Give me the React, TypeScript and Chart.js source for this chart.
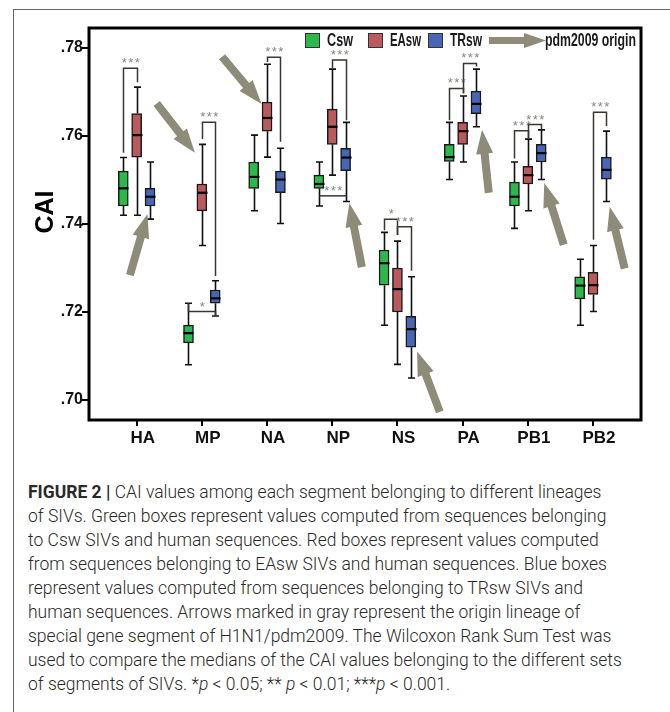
import React, { useEffect, useRef } from 'react';
import { Chart, registerables } from 'chart.js';

Chart.register(...registerables);

// ---------------- data ----------------
const categories = ['HA', 'MP', 'NA', 'NP', 'NS', 'PA', 'PB1', 'PB2'];
const seriesNames = ['Csw', 'EAsw', 'TRsw'];
const seriesColors = ['#2db84b', '#b95a5c', '#4866b6'];
const yTicks = [0.70, 0.72, 0.74, 0.76, 0.78];

// Csw
const cswMin = [0.7420, 0.7080, 0.7430, 0.7441, 0.7170, 0.7501, 0.7390, 0.7170];
const cswQ1 = [0.7441, 0.7130, 0.7481, 0.7481, 0.7261, 0.7542, 0.7441, 0.7230];
const cswMed = [0.7481, 0.7152, 0.7507, 0.7491, 0.7311, 0.7552, 0.7462, 0.7260];
const cswQ3 = [0.7520, 0.7170, 0.7541, 0.7511, 0.7341, 0.7581, 0.7495, 0.7280];
const cswMax = [0.7551, 0.7220, 0.7602, 0.7541, 0.7381, 0.7631, 0.7541, 0.7320];
// EAsw
const easwMin = [0.7420, 0.7351, 0.7552, 0.7511, 0.7081, 0.7541, 0.7430, 0.7201];
const easwQ1 = [0.7552, 0.7430, 0.7611, 0.7581, 0.7200, 0.7581, 0.7491, 0.7240];
const easwMed = [0.7602, 0.7471, 0.7641, 0.7621, 0.7252, 0.7611, 0.7511, 0.7261];
const easwQ3 = [0.7651, 0.7491, 0.7677, 0.7661, 0.7300, 0.7631, 0.7531, 0.7290];
const easwMax = [0.7711, 0.7581, 0.7763, 0.7752, 0.7361, 0.7691, 0.7593, 0.7351];
// TRsw
const trswMin = [0.7411, 0.7191, 0.7401, 0.7451, 0.7050, 0.7621, 0.7501, 0.7451];
const trswQ1 = [0.7441, 0.7220, 0.7471, 0.7521, 0.7120, 0.7651, 0.7541, 0.7502];
const trswMed = [0.7462, 0.7231, 0.7501, 0.7551, 0.7161, 0.7673, 0.7561, 0.7523];
const trswQ3 = [0.7481, 0.7250, 0.7520, 0.7572, 0.7190, 0.7702, 0.7581, 0.7552];
const trswMax = [0.7541, 0.7271, 0.7572, 0.7631, 0.7280, 0.7752, 0.7614, 0.7611];

// significance brackets (category index, series from/to, bracket level, leg ends, label)
const bracketCat = [0, 1, 1, 2, 3, 3, 4, 4, 5, 5, 6, 6, 7];
const bracketFrom = [0, 1, 0, 1, 1, 0, 0, 1, 0, 1, 0, 1, 1];
const bracketTo = [1, 2, 2, 2, 2, 2, 1, 2, 1, 2, 1, 2, 2];
const bracketLevel = [0.7754, 0.7631, 0.7201, 0.7779, 0.7773, 0.7464, 0.7411, 0.7394, 0.7708, 0.7765, 0.7612, 0.7626, 0.7654];
const bracketFromEnd = [0.7562, 0.7593, 0.7220, 0.7768, 0.7754, 0.7464, 0.7386, 0.7375, 0.7636, 0.7697, 0.7549, 0.7595, 0.7364];
const bracketToEnd = [0.7722, 0.7282, 0.7191, 0.7587, 0.7636, 0.7464, 0.7375, 0.7294, 0.7697, 0.7758, 0.7595, 0.7615, 0.7623];
const bracketLabel = ['***', '***', '*', '***', '***', '***', '*', '***', '***', '***', '***', '***', '***'];

// pdm2009 origin arrows (x in category units, y in CAI units)
const arrowTailX = [-0.103, 0.307, 1.31, 3.454, 4.650, 5.401, 6.551, 7.486];
const arrowTailY = [0.7284, 0.7674, 0.7780, 0.7302, 0.6973, 0.7471, 0.7353, 0.7299];
const arrowTipX = [0.166, 0.894, 1.916, 3.262, 4.302, 5.298, 6.252, 7.256];
const arrowTipY = [0.7423, 0.7562, 0.7673, 0.7448, 0.7110, 0.7614, 0.7493, 0.7439];

const mins = [cswMin, easwMin, trswMin];
const q1s = [cswQ1, easwQ1, trswQ1];
const meds = [cswMed, easwMed, trswMed];
const q3s = [cswQ3, easwQ3, trswQ3];
const maxs = [cswMax, easwMax, trswMax];

// group layout
const groupOffsets = [-0.205, 0, 0.205];
const ARROW_COLOR = '#8e8c78';
const AXIS_FONT = '"Liberation Sans", Arial, sans-serif';
const LEGEND_FONT = 'bold 19px "Liberation Sans", Arial, sans-serif';

function drawArrow(ctx: CanvasRenderingContext2D, x0: number, y0: number, x1: number, y1: number, shaft: number, headW: number, headL: number) {
  const dx = x1 - x0;
  const dy = y1 - y0;
  const len = Math.hypot(dx, dy);
  const ux = dx / len;
  const uy = dy / len;
  const px = -uy;
  const py = ux;
  const bx = x1 - ux * headL;
  const by = y1 - uy * headL;
  ctx.beginPath();
  ctx.moveTo(x0 + px * shaft / 2, y0 + py * shaft / 2);
  ctx.lineTo(bx + px * shaft / 2, by + py * shaft / 2);
  ctx.lineTo(bx + px * headW / 2, by + py * headW / 2);
  ctx.lineTo(x1, y1);
  ctx.lineTo(bx - px * headW / 2, by - py * headW / 2);
  ctx.lineTo(bx - px * shaft / 2, by - py * shaft / 2);
  ctx.lineTo(x0 - px * shaft / 2, y0 - py * shaft / 2);
  ctx.closePath();
  ctx.fill();
}

function drawCondensed(ctx: CanvasRenderingContext2D, text: string, x: number, y: number, width: number) {
  const w = ctx.measureText(text).width;
  ctx.save();
  ctx.translate(x, y);
  ctx.scale(width / w, 1);
  ctx.fillText(text, 0, 0);
  ctx.restore();
}

const boxPlugin = {
  id: 'boxExtras',
  beforeDatasetsDraw(chart: any) {
    const ctx = chart.ctx as CanvasRenderingContext2D;
    const xs = chart.scales.x;
    const ys = chart.scales.y;
    ctx.save();
    ctx.strokeStyle = '#111';
    ctx.lineWidth = 1.6;
    for (let s = 0; s < 3; s++) {
      for (let i = 0; i < categories.length; i++) {
        const x = Math.round(xs.getPixelForValue(i + groupOffsets[s])) + 0.5;
        const yMin = ys.getPixelForValue(mins[s][i]);
        const yMax = ys.getPixelForValue(maxs[s][i]);
        const yQ1 = ys.getPixelForValue(q1s[s][i]);
        const yQ3 = ys.getPixelForValue(q3s[s][i]);
        ctx.beginPath();
        ctx.moveTo(x, yQ3);
        ctx.lineTo(x, yMax);
        ctx.moveTo(x, yQ1);
        ctx.lineTo(x, yMin);
        ctx.moveTo(x - 3.5, yMax);
        ctx.lineTo(x + 3.5, yMax);
        ctx.moveTo(x - 3.5, yMin);
        ctx.lineTo(x + 3.5, yMin);
        ctx.stroke();
      }
    }
    ctx.restore();
  },
  afterDatasetsDraw(chart: any) {
    const ctx = chart.ctx as CanvasRenderingContext2D;
    const xs = chart.scales.x;
    const ys = chart.scales.y;
    ctx.save();
    // medians
    ctx.strokeStyle = '#000';
    ctx.lineWidth = 2.2;
    for (let s = 0; s < 3; s++) {
      for (let i = 0; i < categories.length; i++) {
        const x = Math.round(xs.getPixelForValue(i + groupOffsets[s])) + 0.5;
        const y = ys.getPixelForValue(meds[s][i]);
        ctx.beginPath();
        ctx.moveTo(x - 5, y);
        ctx.lineTo(x + 5, y);
        ctx.stroke();
      }
    }
    // brackets
    ctx.strokeStyle = '#3a3633';
    ctx.lineWidth = 1.5;
    ctx.fillStyle = '#858585';
    ctx.font = '13px ' + AXIS_FONT;
    (ctx as any).letterSpacing = '1.5px';
    ctx.textAlign = 'center';
    ctx.textBaseline = 'alphabetic';
    for (let b = 0; b < bracketCat.length; b++) {
      const xa = Math.round(xs.getPixelForValue(bracketCat[b] + groupOffsets[bracketFrom[b]])) + 0.5;
      const xb = Math.round(xs.getPixelForValue(bracketCat[b] + groupOffsets[bracketTo[b]])) + 0.5;
      const yl = ys.getPixelForValue(bracketLevel[b]);
      const ya = ys.getPixelForValue(bracketFromEnd[b]);
      const yb = ys.getPixelForValue(bracketToEnd[b]);
      ctx.beginPath();
      ctx.moveTo(xa, ya);
      ctx.lineTo(xa, yl);
      ctx.lineTo(xb, yl);
      ctx.lineTo(xb, yb);
      ctx.stroke();
      ctx.fillText(bracketLabel[b], (xa + xb) / 2 + 1, yl - 1);
    }
    (ctx as any).letterSpacing = '0px';
    // arrows
    ctx.fillStyle = ARROW_COLOR;
    for (let a = 0; a < arrowTailX.length; a++) {
      drawArrow(
        ctx,
        xs.getPixelForValue(arrowTailX[a]),
        ys.getPixelForValue(arrowTailY[a]),
        xs.getPixelForValue(arrowTipX[a]),
        ys.getPixelForValue(arrowTipY[a]),
        8, 17, 24
      );
    }
    ctx.restore();
  },
  afterDraw(chart: any) {
    const ctx = chart.ctx as CanvasRenderingContext2D;
    const a = chart.chartArea;
    ctx.save();
    // frame
    ctx.strokeStyle = '#000';
    ctx.lineWidth = 3;
    ctx.strokeRect(a.left, a.top, a.right - a.left, a.bottom - a.top);
    // y title
    ctx.save();
    ctx.translate(a.left - 43, a.top + 184);
    ctx.rotate(-Math.PI / 2);
    ctx.fillStyle = '#000';
    ctx.font = 'bold 25px ' + AXIS_FONT;
    ctx.textAlign = 'center';
    ctx.textBaseline = 'middle';
    ctx.fillText('CAI', 0, 0);
    ctx.restore();
    // legend
    const legendX = [216, 279, 339];
    const legendTextW = [26, 31, 32];
    const top = a.top + 5;
    ctx.font = LEGEND_FONT;
    ctx.textBaseline = 'middle';
    ctx.textAlign = 'left';
    for (let s = 0; s < 3; s++) {
      const x = a.left + legendX[s];
      ctx.fillStyle = seriesColors[s];
      ctx.fillRect(x, top, 15, 15);
      ctx.strokeStyle = '#333';
      ctx.lineWidth = 1;
      ctx.strokeRect(x + 0.5, top + 0.5, 14, 14);
      ctx.fillStyle = '#1a1a1a';
      drawCondensed(ctx, seriesNames[s], x + 22, top + 8, legendTextW[s]);
    }
    ctx.fillStyle = ARROW_COLOR;
    drawArrow(ctx, a.left + 400, top + 7.5, a.left + 457, top + 7.5, 7, 15, 22);
    ctx.fillStyle = '#1a1a1a';
    drawCondensed(ctx, 'pdm2009 origin', a.left + 456, top + 8, 91);
    ctx.restore();
  },
};

export default function App() {
  const ref = useRef<HTMLCanvasElement>(null);
  useEffect(() => {
    document.body.style.margin = '0';
    document.body.style.overflow = 'hidden';
    const datasets = seriesNames.map((name, s) => ({
      label: name,
      data: categories.map((_, i) => ({ x: i + groupOffsets[s], y: [q1s[s][i], q3s[s][i]] })),
      backgroundColor: seriesColors[s],
      borderColor: '#1a1a1a',
      borderWidth: 1.5,
      borderSkipped: false,
      barThickness: 10,
      grouped: false,
    }));
    const chart = new Chart(ref.current as HTMLCanvasElement, {
      type: 'bar',
      data: { datasets: datasets as any },
      options: {
        animation: false,
        responsive: false,
        devicePixelRatio: 1,
        layout: { padding: { top: 28, right: 29, left: 0, bottom: 0 } },
        plugins: { legend: { display: false }, tooltip: { enabled: false }, title: { display: false } },
        scales: {
          x: {
            type: 'linear',
            min: -0.731,
            max: 7.736,
            offset: false,
            afterBuildTicks: (s: any) => {
              s.ticks = categories.map((_, i) => ({ value: i }));
            },
            afterFit: (s: any) => {
              s.height = 40;
            },
            grid: { drawOnChartArea: false, drawTicks: true, tickLength: 6, color: '#000', lineWidth: 2, offset: false },
            border: { display: false },
            ticks: {
              autoSkip: false,
              maxRotation: 0,
              padding: 2,
              labelOffset: 6,
              color: '#111',
              font: { family: AXIS_FONT, size: 17, weight: 'bold' },
              callback: (v: any) => categories[Math.round(Number(v))] ?? '',
            },
          },
          y: {
            type: 'linear',
            min: 0.695455,
            max: 0.784545,
            afterBuildTicks: (s: any) => {
              s.ticks = yTicks.map((v) => ({ value: v }));
            },
            afterFit: (s: any) => {
              s.width = 89;
            },
            grid: { drawOnChartArea: false, drawTicks: true, tickLength: 7, color: '#000', lineWidth: 2 },
            border: { display: false },
            ticks: {
              padding: -1,
              color: '#111',
              font: { family: AXIS_FONT, size: 16, weight: 'bold' },
              callback: (v: any) => Number(v).toFixed(2).replace(/^0/, ''),
            },
          },
        },
      } as any,
      plugins: [boxPlugin],
    });
    return () => chart.destroy();
  }, []);

  const lineStyle: React.CSSProperties = { whiteSpace: 'nowrap', height: 24, lineHeight: '24px' };
  return (
    <div style={{ position: 'relative', width: 670, height: 712, overflow: 'hidden', background: '#fff' }}>
      <div
        style={{
          position: 'absolute',
          left: 13,
          top: 9,
          width: 720,
          height: 760,
          borderLeft: '1px solid #666',
          borderTop: '1px solid #666',
        }}
      />
      <canvas ref={ref} width={670} height={460} style={{ position: 'absolute', left: 0, top: 0 }} />
      <div
        style={{
          position: 'absolute',
          left: 28,
          top: 480,
          fontFamily: 'Roboto, "Liberation Sans", sans-serif',
          fontWeight: 300,
          fontSize: 17.5,
          color: '#2a2a2a',
        }}
      >
        <div style={lineStyle}><b style={{ fontWeight: 700 }}>FIGURE 2 |</b> CAI values among each segment belonging to different lineages</div>
        <div style={lineStyle}>of SIVs. Green boxes represent values computed from sequences belonging</div>
        <div style={lineStyle}>to Csw SIVs and human sequences. Red boxes represent values computed</div>
        <div style={lineStyle}>from sequences belonging to EAsw SIVs and human sequences. Blue boxes</div>
        <div style={lineStyle}>represent values computed from sequences belonging to TRsw SIVs and</div>
        <div style={lineStyle}>human sequences. Arrows marked in gray represent the origin lineage of</div>
        <div style={lineStyle}>special gene segment of H1N1/pdm2009. The Wilcoxon Rank Sum Test was</div>
        <div style={lineStyle}>used to compare the medians of the CAI values belonging to the different sets</div>
        <div style={lineStyle}>
          of segments of SIVs. *<i>p</i> &lt; 0.05; ** <i>p</i> &lt; 0.01; ***<i>p</i> &lt; 0.001.
        </div>
      </div>
    </div>
  );
}
